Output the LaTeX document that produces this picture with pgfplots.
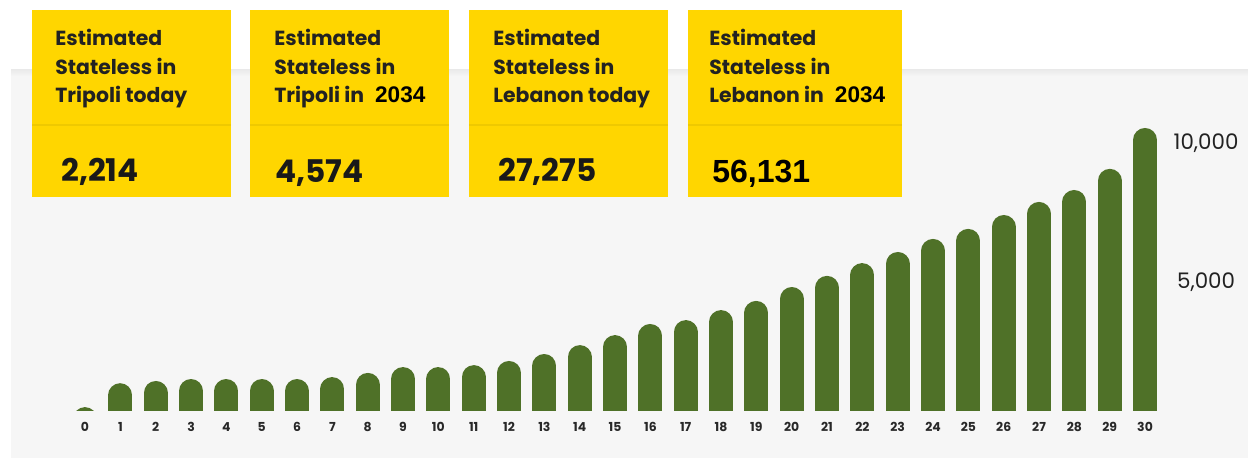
\documentclass[border=0pt]{standalone}
\usepackage{fontspec}
\setmainfont{Poppins}
\newfontfamily\lib{Liberation Sans}
\usepackage{pgfplots}
\pgfplotsset{compat=1.18}

\definecolor{bargreen}{RGB}{79,113,40}
\definecolor{panelgrey}{RGB}{246,246,246}
\definecolor{boxyellow}{RGB}{255,214,0}
\definecolor{inkdark}{RGB}{34,34,34}
\definecolor{tickgrey}{RGB}{40,40,40}

% one image pixel = 0.5pt
\newcommand{\boxfont}{\fontsize{10.2}{12}\selectfont\bfseries\color{inkdark}}
\newcommand{\numfont}{\fontsize{15.6}{18}\selectfont\bfseries\color{black!90}}
\newcommand{\yr}{\hspace{5.5pt}{\lib\fontsize{11.3}{12}\selectfont\bfseries\color{black} 2034}}

\begin{document}
\begin{tikzpicture}[x=0.5pt,y=0.5pt]
  \useasboundingbox (0,0) rectangle (1248,458);
  \fill[white] (0,0) rectangle (1248,458);
  \fill[panelgrey] (11,0) rectangle (1248,388);
  \shade[top color=black!8, bottom color=panelgrey] (11,388) rectangle (1248,382);

  \begin{axis}[
      at={(24.85pt,23.5pt)}, anchor=south west,
      scale only axis,
      width=556.5pt, height=152.9pt,
      xmin=-1, xmax=30.5,
      ymin=0, ymax=11000,
      axis line style={draw=none},
      tick style={draw=none},
      xtick={0,...,30},
      ytick={5000,10000},
      yticklabel pos=right,
      scaled y ticks=false,
      /pgf/number format/assume math mode=true,
      /pgf/number format/1000 sep={,},
      x tick label style={font=\fontsize{6.2}{7}\selectfont\bfseries, text=tickgrey, yshift=-2.3pt},
      y tick label style={font=\fontsize{10.7}{12}\selectfont, text=inkdark,
                          anchor=center, xshift=21.7pt, yshift=-5pt},
  ]
  \addplot[ycomb, draw=bargreen, line width=12pt, line cap=round, yshift=-6pt]
      coordinates {
      (0,140)(1,1000)(2,1080)(3,1150)(4,1150)(5,1150)(6,1150)(7,1220)
      (8,1370)(9,1580)(10,1580)(11,1650)(12,1800)(13,2050)(14,2370)
      (15,2730)(16,3130)(17,3270)(18,3630)(19,3960)(20,4460)(21,4860)
      (22,5320)(23,5720)(24,6190)(25,6550)(26,7050)(27,7520)(28,7950)
      (29,8710)(30,10180)
      };
  \end{axis}

  % yellow boxes
  \foreach \xa/\xb in {32/231, 250/449, 469/668, 688/902} {
    \fill[boxyellow] (\xa,448) rectangle (\xb,261);
    \draw[boxyellow!90!black, opacity=0.6, line width=0.8pt] (\xa,333) -- (\xb,333);
  }
  \begin{scope}[every node/.style={anchor=base west, inner sep=0pt}]
    \node[font=\boxfont] at (55,412) {Estimated};
    \node[font=\boxfont] at (55,383) {Stateless in};
    \node[font=\boxfont] at (55,355) {Tripoli today};
    \node[font=\numfont] at (61,276) {2,214};

    \node[font=\boxfont] at (274,412) {Estimated};
    \node[font=\boxfont] at (274,383) {Stateless in};
    \node[font=\boxfont] at (274,355) {Tripoli in\yr};
    \node[font=\numfont] at (275,275) {4,574};

    \node[font=\boxfont] at (493,412) {Estimated};
    \node[font=\boxfont] at (493,383) {Stateless in};
    \node[font=\boxfont] at (493,355) {Lebanon today};
    \node[font=\numfont] at (498,276) {27,275};

    \node[font=\boxfont] at (709,412) {Estimated};
    \node[font=\boxfont] at (709,383) {Stateless in};
    \node[font=\boxfont] at (709,355) {Lebanon in\yr};
    \node[font=\lib\fontsize{16}{18}\selectfont\bfseries] at (712,275) {56,131};
  \end{scope}
\end{tikzpicture}
\end{document}
